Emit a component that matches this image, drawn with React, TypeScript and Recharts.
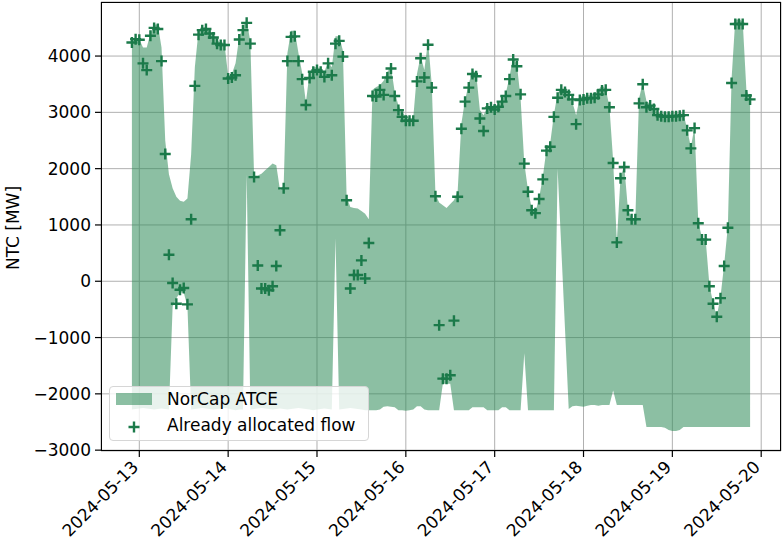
import React from 'react';
import { ComposedChart, Area, Scatter, XAxis, YAxis, CartesianGrid } from 'recharts';

// hourly values, first hour is 2024-05-12 22:00 (hour -2 relative to 05-13 00:00)
const START_HOUR = -2;

const DAY_LABELS = ['2024-05-13', '2024-05-14', '2024-05-15', '2024-05-16', '2024-05-17', '2024-05-18', '2024-05-19', '2024-05-20'];
const DAY_TICKS = [0, 24, 48, 72, 96, 120, 144, 168];
const Y_TICKS = [-3000, -2000, -1000, 0, 1000, 2000, 3000, 4000];

const atceUpper = [
  4250, 4320, 4300, 4150, 4150, 4400, 4560, 4560, 4150, 2500, 1900, 1650,
  1500, 1430, 1410, 1470, 2250, 3800, 4450, 4500, 4520, 4450,
  4370, 4280, 4230, 4220, 3650, 3680, 3870, 4340, 4520, 4640,
  4250, 1880, 1880, 1910, 1970, 2030, 2090, 2060, 1620, 1700,
  4050, 4450, 4450, 4050, 3700, 3180, 3700, 3800, 3800, 3780,
  3720, 3900, 3800, 4350, 4350, 4100, 1500, 1320, 1300, 1290,
  1250, 1200, 1100, 3400, 3450, 3480, 3560, 3720, 3800, 3360,
  3120, 2990, 2930, 2900, 2900, 3680, 4000, 3750, 4270, 3500,
  1550, 1400, 1350, 1300, 1370, 1440, 1600, 2800, 3220, 3510,
  3750, 3690, 3040, 2950, 3100, 3110, 3100, 3130, 3220, 3340,
  3630, 3990, 3850, 3250, 2100, 1620, 1300, 1230, 1480, 1850,
  2350, 2450, 2960, 3340, 3430, 3380, 3270, 3180, 2950, 3270,
  3300, 3300, 3310, 3340, 3400, 3480, 3420, 3100, 2150, 700,
  1850, 2050, 1280, 1120, 1120, 3250, 3520, 3200, 3150, 3100,
  3000, 2980, 2980, 2980, 2980, 2980, 2980, 2980, 2700, 2380,
  2750, 1050, 780, 740, -60, -380, -620, -280, 300, 980,
  3600, 4650, 4650, 4620, 3400, 3250,
];

const atceLower = [
  -2280, -2270, -2260, -2250, -2260, -2270, -2280, -2270, -2260, -2270, -2280, -450,
  -300, -200, -200, -450, -2280, -2270, -2260, -2250, -2260, -2270,
  -2280, -2270, -2260, -2250, -2260, -2280, -2290, -2280, -2280, 1900,
  -2280, -2270, -2260, -2250, -2260, -2270, -2280, -2270, -2260, -2270,
  -2280, -2270, -2260, -2250, -2260, -2270, -2280, -2290, -2280, -2270,
  -2260, -2270, -2280, 760, -2280, -2270, -2260, -2250, -2260, -2270,
  -2280, -2290, -2290, -2290, -2290, -2280, -2230, -2220, -2230, -2240,
  -2290, -2290, -2300, -2290, -2280, -2220, -2220, -2280, -2290, -2290,
  -2290, -2290, -1820, -1820, -1820, -2290, -2290, -2290, -2290, -2290,
  -2240, -2240, -2240, -2240, -2290, -2290, -2290, -2290, -2240, -2240,
  -2290, -2290, -2290, -2290, -1280, -2290, -2290, -2290, -2290, -2290,
  -2290, -2290, -2290, 2000, 580, -850, -2270, -2220, -2210, -2220,
  -2230, -2210, -2200, -2200, -2210, -2200, -2200, -2200, -1940, -2200,
  -2200, -2200, -2200, -2200, -2200, -2200, -2200, -2590, -2590, -2590,
  -2590, -2590, -2600, -2640, -2660, -2660, -2640, -2590, -2590, -2590,
  -2590, -2590, -2590, -2590, -2590, -2590, -2590, -2590, -2590, -2590,
  -2590, -2590, -2590, -2590, -2590, -2590,
];

const allocatedFlow = [
  4240, 4300, 4290, 3870, 3750, 4360, 4500, 4480, 3910, 2260, 470, -30,
  -400, -150, -120, -410, 1100, 3470, 4380, 4460, 4480, 4400,
  4330, 4220, 4195, 4195, 3600, 3620, 3660, 4295, 4460, 4590,
  4220, 1850, 280, -130, -130, -160, -90, 270, 905, 1650,
  3910, 4340, 4350, 3910, 3590, 3130, 3610, 3720, 3750, 3720,
  3630, 3870, 3660, 4220, 4270, 3990, 1440, -130, 110, 110,
  370, 50, 680, 3290, 3280, 3400, 3310, 3620, 3780, 3290,
  3040, 2920, 2850, 2850, 2850, 3550, 3960, 3620, 4200, 3440,
  1510, -780, -1730, -1730, -1670, -700, 1500, 2710, 3190, 3440,
  3680, 3640, 2890, 2670, 3070, 3090, 3050, 3100, 3190, 3290,
  3590, 3940, 3820, 3320, 2090, 1590, 1260, 1210, 1460, 1810,
  2320, 2390, 2920, 3260, 3400, 3360, 3310, 3230, 2790, 3220,
  3230, 3250, 3250, 3260, 3320, 3390, 3400, 3090, 2100, 690,
  1830, 2030, 1260, 1100, 1100, 3160, 3500, 3090, 3120, 3060,
  2950, 2930, 2920, 2920, 2930, 2930, 2940, 2950, 2680, 2360,
  2720, 1030, 740, 740, -90, -400, -630, -300, 270, 950,
  3520, 4570, 4570, 4570, 3300, 3230,
];

const data = allocatedFlow.map((s, i) => ({
  h: START_HOUR + i,
  range: [atceLower[i], atceUpper[i]],
  s,
}));

const FONT = '"DejaVu Sans", sans-serif';
const AREA_COLOR = '#2e8b57';
const MARK_COLOR = '#1b7a4a';

const PlusMarker = (props: any) => {
  const { cx, cy } = props;
  if (cx == null || cy == null) return null;
  return (
    <path
      d={`M${cx - 5.5},${cy}H${cx + 5.5}M${cx},${cy - 5.5}V${cy + 5.5}`}
      stroke={MARK_COLOR}
      strokeWidth={2.4}
      fill="none"
    />
  );
};

const DateTick = (props: any) => {
  const { x, y, payload } = props;
  const label = DAY_LABELS[Math.round(payload.value / 24)];
  return (
    <g transform={`translate(${x},${y + 9})`}>
      <text textAnchor="end" transform="rotate(-45)" fontSize={17} fontFamily={FONT} fill="#000">
        {label}
      </text>
    </g>
  );
};

const fmtY = (v: number) => String(v).replace('-', '\u2212');

export default function App() {
  return (
    <div style={{ position: 'absolute', left: 0, top: 0, width: 782, height: 547, background: '#fff' }}>
      <ComposedChart width={782} height={547} data={data} margin={{ top: 2, right: 1, bottom: 0, left: 0 }}>
        <XAxis
          dataKey="h"
          type="number"
          domain={[-10.35, 173.35]}
          ticks={DAY_TICKS}
          interval={0}
          height={96}
          axisLine={false}
          tickLine={{ stroke: '#000', strokeWidth: 1.2 }}
          tickSize={6}
          tick={<DateTick />}
          allowDataOverflow
        />
        <YAxis
          type="number"
          domain={[-3015, 4960]}
          ticks={Y_TICKS}
          interval={0}
          width={101}
          axisLine={false}
          tickLine={{ stroke: '#000', strokeWidth: 1.2 }}
          tickSize={6}
          tickMargin={4}
          tickFormatter={fmtY}
          tick={{ fontSize: 17, fontFamily: FONT, fill: '#000' }}
          allowDataOverflow
        />
        <Area
          type="linear"
          dataKey="range"
          stroke="none"
          fill={AREA_COLOR}
          fillOpacity={0.55}
          isAnimationActive={false}
        />
        <CartesianGrid stroke="#b0b0b0" strokeWidth={1} />
        <Scatter dataKey="s" shape={PlusMarker} isAnimationActive={false} />
      </ComposedChart>

      {/* axes frame */}
      <div style={{ position: 'absolute', left: 101, top: 2, width: 680, height: 449, border: '1.2px solid #000', boxSizing: 'border-box', pointerEvents: 'none' }} />

      {/* y label */}
      <svg style={{ position: 'absolute', left: 0, top: 0 }} width={40} height={547}>
        <text x={19} y={228} transform="rotate(-90 19 228)" textAnchor="middle" fontSize={17} fontFamily={FONT} fill="#000">
          NTC [MW]
        </text>
      </svg>

      {/* legend */}
      <div style={{ position: 'absolute', left: 109, top: 386, width: 260, height: 55, border: '1px solid #d6d6d6', borderRadius: 4, background: 'rgba(255,255,255,0.8)', boxSizing: 'border-box' }}>
        <svg width={258} height={53} style={{ position: 'absolute', left: 0, top: 0 }}>
          <rect x={6} y={6} width={36} height={12} fill={AREA_COLOR} fillOpacity={0.55} />
          <text x={57} y={18} fontSize={17} fontFamily={FONT} fill="#000">NorCap ATCE</text>
          <path d="M18.5,40H29.5M24,34.5V45.5" stroke={MARK_COLOR} strokeWidth={2.4} />
          <text x={57} y={44} fontSize={17} fontFamily={FONT} fill="#000">Already allocated flow</text>
        </svg>
      </div>
    </div>
  );
}
